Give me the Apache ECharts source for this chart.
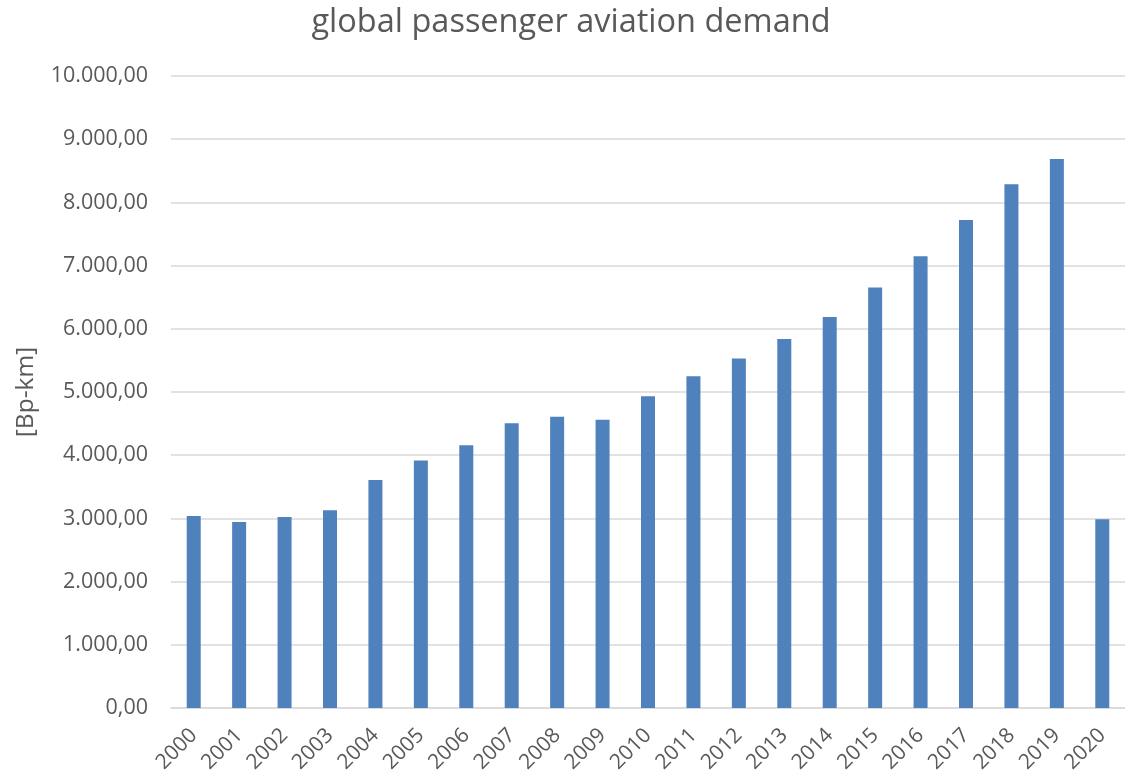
<!DOCTYPE html>
<html>
<head>
<meta charset="utf-8">
<script src="https://cdn.jsdelivr.net/npm/echarts@6/dist/echarts.min.js"></script>
<style>
  html, body { margin: 0; padding: 0; background: #ffffff; }
  #chart { width: 1125px; height: 776px; }
</style>
</head>
<body>
<div id="chart"></div>
<script>
// Global passenger aviation demand, billion passenger-km per year
const years = ['2000','2001','2002','2003','2004','2005','2006','2007','2008','2009','2010',
               '2011','2012','2013','2014','2015','2016','2017','2018','2019','2020'];
const demand = [3039, 2944, 3024, 3130, 3609, 3916, 4159, 4507, 4607, 4559, 4934,
                5251, 5531, 5837, 6185, 6655, 7146, 7720, 8286, 8686, 2987];
const yTicks = { min: 0, max: 10000, step: 1000 };

// German number style: 10.000,00
function fmt(v) {
  const parts = v.toFixed(2).split('.');
  const intPart = parts[0].replace(/\B(?=(\d{3})+(?!\d))/g, '.');
  return intPart + ',' + parts[1];
}

const textColor = '#595959';
const font = '"Open Sans", "Noto Sans", sans-serif';

const chart = echarts.init(document.getElementById('chart'), null, { renderer: 'canvas' });
chart.setOption({
  animation: false,
  title: {
    text: 'global passenger aviation demand',
    left: 566, top: 1,
    textAlign: 'center',
    textStyle: { color: textColor, fontFamily: font, fontSize: 32.5, fontWeight: 'normal' }
  },
  grid: { left: 171, right: -10, top: 76, bottom: 68, containLabel: false },
  xAxis: {
    type: 'category',
    data: years,
    axisLine: { show: true, lineStyle: { color: '#d9d9d9', width: 1.5 } },
    axisTick: { show: false },
    axisLabel: {
      rotate: 45, margin: 24, color: textColor,
      fontFamily: font, fontSize: 21
    },
    splitLine: { show: false }
  },
  yAxis: {
    type: 'value',
    min: yTicks.min, max: yTicks.max, interval: yTicks.step,
    name: '[Bp-km]',
    nameLocation: 'middle',
    nameRotate: 90,
    nameGap: 132,
    nameTextStyle: { color: textColor, fontFamily: font, fontSize: 24.5 },
    axisLine: { show: false },
    axisTick: { show: false },
    axisLabel: {
      margin: 23, color: textColor, fontFamily: font, fontSize: 21.5,
      formatter: fmt
    },
    splitLine: { lineStyle: { color: '#d9d9d9', width: 1.5 } }
  },
  series: [{
    type: 'bar',
    data: demand,
    barWidth: 14,
    itemStyle: { color: '#4f81bd' }
  }]
});
</script>
</body>
</html>
